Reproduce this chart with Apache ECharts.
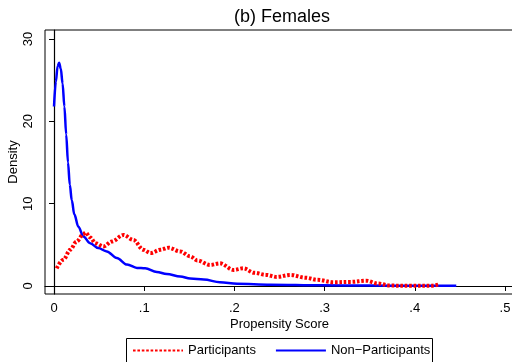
<!DOCTYPE html>
<html>
<head>
<meta charset="utf-8">
<script src="https://cdn.jsdelivr.net/npm/echarts@6/dist/echarts.min.js"></script>
<style>
  html, body { margin: 0; padding: 0; background: #fff; }
  #chart { width: 512px; height: 362px; }
</style>
</head>
<body>
<div id="chart"></div>
<script>
// Kernel density of the estimated propensity score, females.
// Each series is a list of [propensity score, density] pairs.
const participants = [
  [0.003, 2.15], [0.0104, 3.2], [0.018, 4.4], [0.025, 5.4], [0.0326, 6.3],
  [0.035, 6.5], [0.04, 5.9], [0.046, 5.2], [0.055, 4.8], [0.064, 5.4],
  [0.077, 6.2], [0.088, 5.6], [0.099, 4.4], [0.107, 4.0], [0.118, 4.4],
  [0.127, 4.65], [0.14, 4.2], [0.151, 3.6], [0.159, 3.1], [0.173, 2.55],
  [0.184, 2.75], [0.199, 1.95], [0.21, 2.15], [0.222, 1.6], [0.235, 1.35],
  [0.247, 1.1], [0.262, 1.35], [0.279, 1.0], [0.292, 0.75], [0.31, 0.45],
  [0.329, 0.5], [0.346, 0.65], [0.359, 0.3], [0.373, 0.05], [0.396, 0.02],
  [0.418, 0.03], [0.427, 0.2]
];
const nonParticipants = [
  [0.0, 21.8], [0.002, 24.8], [0.004, 26.7], [0.0056, 27.1], [0.0075, 26.4],
  [0.0095, 24.6], [0.0115, 21.8], [0.0135, 18.4], [0.0155, 15.0], [0.0175, 12.3],
  [0.0197, 10.4], [0.0225, 8.7], [0.027, 7.2], [0.0326, 6.0], [0.04, 5.2],
  [0.049, 4.6], [0.0585, 4.2], [0.0696, 3.4], [0.081, 2.6], [0.092, 2.2],
  [0.101, 2.15], [0.114, 1.7], [0.125, 1.45], [0.14, 1.15], [0.151, 0.9],
  [0.166, 0.8], [0.184, 0.45], [0.203, 0.28], [0.24, 0.16], [0.296, 0.08],
  [0.35, 0.05], [0.4, 0.03], [0.446, 0.02]
];
const xTicks = [0, 0.1, 0.2, 0.3, 0.4, 0.5];
const xTickLabels = ['0', '.1', '.2', '.3', '.4', '.5'];
const yTicks = [0, 10, 20, 30];
const seriesNames = ['Participants', 'Non\u2212Participants'];
const titleText = '(b) Females';

const FONT = 'Liberation Sans, Arial, Helvetica, sans-serif';
const chart = echarts.init(document.getElementById('chart'), null, { renderer: 'canvas' });

chart.setOption({
  animation: false,
  backgroundColor: '#fff',
  title: {
    text: titleText,
    left: 277,
    top: 3,
    textAlign: 'center',
    textStyle: { fontFamily: FONT, fontSize: 18, fontWeight: 'normal', color: '#000' }
  },
  grid: {
    left: 45, top: 30, width: 469, height: 264,
    outerBoundsMode: 'none',
    containLabel: false,
    show: true, borderColor: '#000', borderWidth: 1, backgroundColor: '#fff'
  },
  xAxis: {
    type: 'value',
    min: -0.01, max: 0.51,
    name: 'Propensity Score',
    nameLocation: 'middle',
    nameGap: 24,
    nameMoveOverlap: false,
    nameTextStyle: { fontFamily: FONT, fontSize: 13, color: '#000' },
    axisLine: { show: true, lineStyle: { color: '#000', width: 1.2 } },
    axisTick: { show: true, length: 5, customValues: xTicks, lineStyle: { color: '#000' } },
    axisLabel: {
      customValues: xTicks,
      margin: 8,
      fontFamily: FONT, fontSize: 13, color: '#000',
      formatter: v => xTickLabels[xTicks.findIndex(t => Math.abs(t - v) < 1e-9)] ?? ''
    },
    splitLine: { show: false }
  },
  yAxis: {
    type: 'value',
    min: -0.972, max: 31.09,
    name: 'Density',
    nameLocation: 'middle',
    nameGap: 25,
    nameMoveOverlap: false,
    nameTextStyle: { fontFamily: FONT, fontSize: 13, color: '#000' },
    axisLine: { show: true, lineStyle: { color: '#000', width: 1.2 } },
    axisTick: { show: true, length: 5, customValues: yTicks, lineStyle: { color: '#000' } },
    axisLabel: {
      customValues: yTicks,
      rotate: 90,
      margin: 10,
      fontFamily: FONT, fontSize: 13, color: '#000'
    },
    splitLine: { show: false }
  },
  legend: {
    left: 132,
    top: 344,
    padding: 0,
    itemWidth: 50,
    itemHeight: 14,
    itemGap: 19,
    // line samples only, no point marker on them
    itemStyle: { opacity: 0 },
    textStyle: { fontFamily: FONT, fontSize: 13, color: '#000' },
    data: seriesNames
  },
  graphic: [{
    type: 'rect',
    shape: { x: 126.5, y: 338.5, width: 306, height: 40 },
    style: { fill: 'none', stroke: '#000', lineWidth: 1 },
    silent: true
  }],
  series: [
    {
      name: seriesNames[0],
      type: 'line',
      data: participants,
      showSymbol: false,
      symbol: 'none',
      smooth: 0.35,
      smoothMonotone: 'x',
      lineStyle: { color: '#ff0000', width: 4, type: [2.6, 1.8] },
      itemStyle: { color: '#ff0000' },
      z: 3
    },
    {
      name: seriesNames[1],
      type: 'line',
      data: nonParticipants,
      showSymbol: false,
      symbol: 'none',
      smooth: 0.35,
      smoothMonotone: 'x',
      lineStyle: { color: '#0000ff', width: 2.5 },
      itemStyle: { color: '#0000ff' },
      z: 2
    }
  ]
});
</script>
</body>
</html>
